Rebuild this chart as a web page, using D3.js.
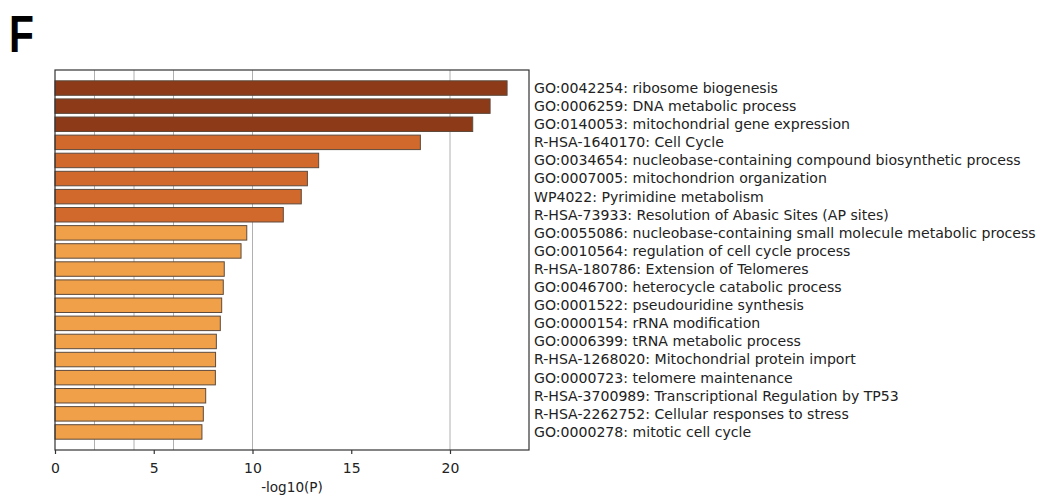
<!DOCTYPE html>
<html>
<head>
<meta charset="utf-8">
<script src="https://cdn.jsdelivr.net/npm/d3@7"></script>
<style>
  html, body { margin: 0; padding: 0; background: #fff; }
  svg { display: block; }
</style>
</head>
<body>
<svg id="chart" width="1046" height="496"></svg>
<script>
// Enriched terms, ordered from most to least significant
const terms = [
  "GO:0042254: ribosome biogenesis",
  "GO:0006259: DNA metabolic process",
  "GO:0140053: mitochondrial gene expression",
  "R-HSA-1640170: Cell Cycle",
  "GO:0034654: nucleobase-containing compound biosynthetic process",
  "GO:0007005: mitochondrion organization",
  "WP4022: Pyrimidine metabolism",
  "R-HSA-73933: Resolution of Abasic Sites (AP sites)",
  "GO:0055086: nucleobase-containing small molecule metabolic process",
  "GO:0010564: regulation of cell cycle process",
  "R-HSA-180786: Extension of Telomeres",
  "GO:0046700: heterocycle catabolic process",
  "GO:0001522: pseudouridine synthesis",
  "GO:0000154: rRNA modification",
  "GO:0006399: tRNA metabolic process",
  "R-HSA-1268020: Mitochondrial protein import",
  "GO:0000723: telomere maintenance",
  "R-HSA-3700989: Transcriptional Regulation by TP53",
  "R-HSA-2262752: Cellular responses to stress",
  "GO:0000278: mitotic cell cycle"
];

// -log10(P) for each term
const logP = [22.89, 22.03, 21.15, 18.50, 13.35, 12.78, 12.47, 11.56, 9.71, 9.42,
              8.57, 8.52, 8.44, 8.37, 8.17, 8.13, 8.12, 7.63, 7.51, 7.44];

// Significance tier (0 = strongest) used to pick the bar colour
const tier = [0, 0, 0, 1, 1, 1, 1, 1, 2, 2, 2, 2, 2, 2, 2, 2, 2, 2, 2, 2];

const xTicks = [0, 5, 10, 15, 20];
const gridValues = [2, 4, 6, 10, 20];
const xDomain = [0, 24];
const tierColors = ["#8c3a17", "#d0692b", "#f0a048"];

const svg = d3.select("#chart");
const plotLeft = 55, plotRight = 529, plotTop = 70, plotBottom = 450;
const labelFont = "DejaVu Sans, sans-serif";

const x = d3.scaleLinear().domain(xDomain).range([plotLeft, plotRight]);
const y = d3.scaleBand().domain(terms).range([plotTop + 9, plotBottom - 9])
  .paddingInner(0.2).paddingOuter(0.1);
const color = d3.scaleOrdinal().domain([0, 1, 2]).range(tierColors);

// Panel letter (bold, slightly condensed)
svg.append("text")
  .attr("transform", "translate(9,52) scale(0.8,1)")
  .attr("font-family", "Liberation Sans, Arial, sans-serif")
  .attr("font-weight", "bold")
  .attr("font-size", 51)
  .attr("fill", "#000")
  .text("F");

// Vertical grid lines behind the bars
svg.append("g")
  .selectAll("line")
  .data(gridValues)
  .join("line")
  .attr("x1", d => x(d)).attr("x2", d => x(d))
  .attr("y1", plotTop).attr("y2", plotBottom)
  .attr("stroke", "#b0b0b0")
  .attr("stroke-width", 1);

// Bars
svg.append("g")
  .selectAll("rect")
  .data(terms)
  .join("rect")
  .attr("x", x(0))
  .attr("y", d => y(d))
  .attr("width", (d, i) => x(logP[i]) - x(0))
  .attr("height", y.bandwidth())
  .attr("fill", (d, i) => color(tier[i]))
  .attr("stroke", "#5e4a3c")
  .attr("stroke-width", 1);

// Frame
svg.append("rect")
  .attr("x", plotLeft).attr("y", plotTop)
  .attr("width", plotRight - plotLeft).attr("height", plotBottom - plotTop)
  .attr("fill", "none")
  .attr("stroke", "#333")
  .attr("stroke-width", 1.2);

// Bottom axis
const xAxis = d3.axisBottom(x).tickValues(xTicks).tickSize(4).tickPadding(9)
  .tickFormat(d3.format("d"));
const gx = svg.append("g").attr("transform", `translate(0,${plotBottom})`).call(xAxis);
gx.select(".domain").remove();
gx.selectAll(".tick line").attr("stroke", "#333").attr("stroke-width", 1.2);
gx.selectAll(".tick text")
  .attr("font-family", labelFont)
  .attr("font-size", 14)
  .attr("fill", "#222");

svg.append("text")
  .attr("x", (plotLeft + plotRight) / 2).attr("y", 492)
  .attr("text-anchor", "middle")
  .attr("font-family", labelFont)
  .attr("font-size", 13.6)
  .attr("fill", "#222")
  .text("-log10(P)");

// Term labels on the right
svg.append("g")
  .selectAll("text")
  .data(terms)
  .join("text")
  .attr("x", 534)
  .attr("y", d => y(d) + y.bandwidth() / 2)
  .attr("dy", "0.35em")
  .attr("font-family", labelFont)
  .attr("font-size", 14.1)
  .attr("fill", "#222")
  .text(d => d);
</script>
</body>
</html>
